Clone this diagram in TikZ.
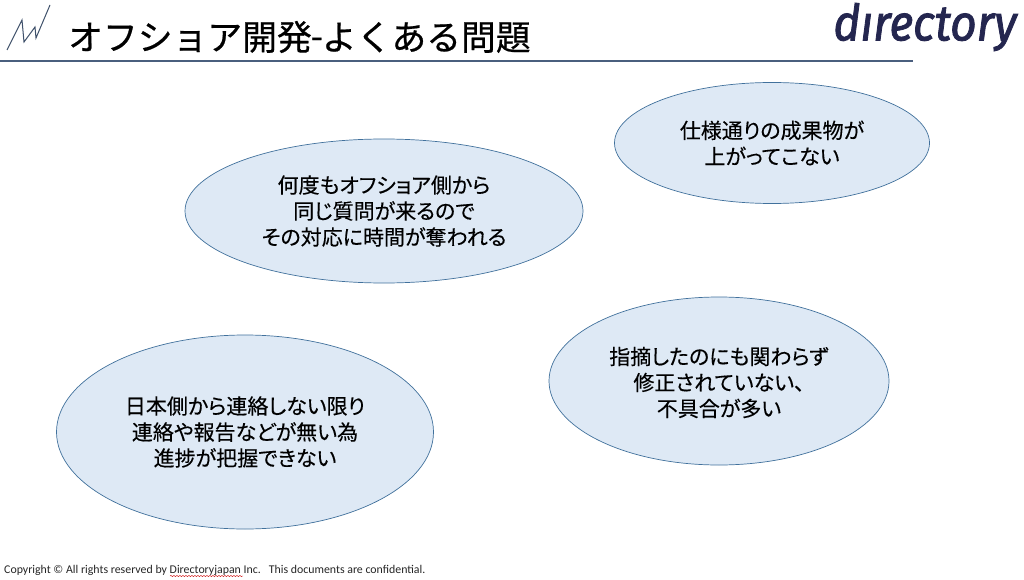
\documentclass[tikz,border=0pt]{standalone}
\usepackage{fontspec}
\setmainfont{Carlito}
\newfontfamily\cjk[FakeBold=0.25,RawFeature=+palt]{Noto Sans CJK JP}
\newfontfamily\cjktitle[FakeBold=0.6]{Noto Sans CJK JP}
\newfontfamily\logofont[FakeBold=1.8]{Fira Sans}
\usetikzlibrary{decorations.pathmorphing,shapes.geometric}
\definecolor{ellfill}{HTML}{DEE9F5}
\definecolor{ellline}{HTML}{41719C}
\definecolor{rulecol}{HTML}{4A5F7E}
\definecolor{logocol}{HTML}{24264F}
\tikzset{
  bubble/.style={ellipse,draw=ellline,fill=ellfill,line width=0.7pt,inner sep=0pt},
  bubbletext/.style={font=\cjk\fontsize{21}{26}\selectfont,align=center,text=black}
}
\begin{document}
\begin{tikzpicture}[x=1pt,y=-1pt]
\useasboundingbox (0,0) rectangle (1024,580);
\fill[white] (0,0) rectangle (1024,580);
% header
\coordinate (s1) at (7,50);
\coordinate (s2) at (22,20);
\coordinate (s3) at (24,42);
\coordinate (s4) at (35,27);
\coordinate (s5) at (36,38);
\coordinate (s6) at (50,5);
\draw[color=rulecol!85!black,line width=1pt] (s1)--(s2)--(s3)--(s4)--(s5)--(s6);
\node[anchor=west,inner sep=0pt,font=\cjktitle\fontsize{34.8}{40}\selectfont] (title) at (68,37) {オフショア開発\hspace{-1pt}\raisebox{1.5pt}{-}\hspace{-1pt}よくある問題};
\coordinate (r1) at (0,61);
\coordinate (r2) at (913,61);
\draw[color=rulecol,line width=1.3pt] (r1)--(r2);
\node[anchor=center,inner sep=0pt,text=logocol,xscale=0.92,font=\logofont\itshape\fontsize{50}{52}\selectfont] (logo) at (925,27) {dırectory};
% ellipses
\node[bubble,minimum width=315pt,minimum height=121pt] (a) at (772,143) {};
\node[bubbletext] at (a.center) {仕様通りの成果物が\\上がってこない};
\node[bubble,minimum width=398pt,minimum height=144pt] (b) at (384,211) {};
\node[bubbletext] at (b.center) {何度もオフショア側から\\同じ質問が来るので\\その対応に時間が奪われる};
\node[bubble,minimum width=340pt,minimum height=168pt] (c) at (719,381) {};
\node[bubbletext] at ([yshift=-1.5pt]c.center) {指摘したのにも関わらず\\修正されていない、\\不具合が多い};
\node[bubble,minimum width=377pt,minimum height=194pt] (d) at (245,432) {};
\node[bubbletext] at (d.center) {日本側から連絡しない限り\\連絡や報告などが無い為\\進捗が把握できない};
% footer
\node[anchor=west,inner sep=0pt,font=\fontsize{11.85}{13}\selectfont,text=black!85] (foot) at (4,570) {Copyright © All rights reserved by Directoryjapan Inc.\ \ \ This documents are confidential.};
\coordinate (w1) at (170,576);
\coordinate (w2) at (243,576);
\draw[red!80!black,line width=0.4pt,decorate,decoration={snake,amplitude=0.6pt,segment length=3pt}] (w1)--(w2);
\end{tikzpicture}
\end{document}
